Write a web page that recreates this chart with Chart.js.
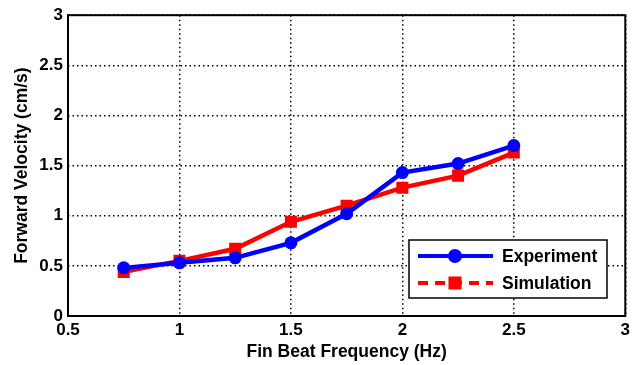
<!DOCTYPE html>
<html>
<head>
<meta charset="utf-8">
<script src="https://cdn.jsdelivr.net/npm/chart.js@4"></script>
<style>
  html, body { margin: 0; padding: 0; background: #fff; }
  #wrap { width: 634px; height: 365px; }
</style>
</head>
<body>
<div id="wrap"><canvas id="chart" width="634" height="365"></canvas></div>
<script>
const frequency = [0.75, 1.0, 1.25, 1.5, 1.75, 2.0, 2.25, 2.5];
const experiment = [0.48, 0.53, 0.58, 0.73, 1.02, 1.43, 1.52, 1.70];
const simulation = [0.44, 0.55, 0.67, 0.94, 1.10, 1.28, 1.40, 1.63];
const xTicks = [0.5, 1, 1.5, 2, 2.5, 3];
const yTicks = [0, 0.5, 1, 1.5, 2, 2.5, 3];

const FAMILY = '"Liberation Sans", Arial, sans-serif';
const TICK_FONT = { family: FAMILY, size: 17, weight: 'bold' };
const TITLE_FONT = { family: FAMILY, size: 17.5, weight: 'bold' };

const toPoints = (xs, ys) => xs.map((x, i) => ({ x: x, y: ys[i] }));

// box frame + legend drawn inside the plot area, MATLAB style
const frameAndLegend = {
  id: 'frameAndLegend',
  afterDraw(chart) {
    const { ctx, chartArea: a } = chart;
    ctx.save();
    ctx.strokeStyle = '#000';
    ctx.lineWidth = 2;
    ctx.strokeRect(a.left, a.top, a.right - a.left, a.bottom - a.top);

    const bx = 409, by = 240, bw = 198, bh = 58;
    ctx.fillStyle = '#fff';
    ctx.fillRect(bx, by, bw, bh);
    ctx.lineWidth = 1.5;
    ctx.strokeRect(bx, by, bw, bh);

    ctx.font = 'bold 17.5px ' + FAMILY;
    ctx.textBaseline = 'middle';
    chart.data.datasets.forEach((ds, i) => {
      const y = by + 16 + i * 27;
      ctx.strokeStyle = ds.borderColor;
      ctx.lineWidth = 4;
      ctx.setLineDash(i === 1 ? [10, 7] : []);
      ctx.beginPath();
      ctx.moveTo(bx + 9, y);
      ctx.lineTo(bx + 84, y);
      ctx.stroke();
      ctx.setLineDash([]);
      ctx.fillStyle = ds.borderColor;
      if (ds.pointStyle === 'rect') {
        ctx.fillRect(bx + 46 - 6.5, y - 6.5, 13, 13);
      } else {
        ctx.beginPath();
        ctx.arc(bx + 46, y, 7, 0, Math.PI * 2);
        ctx.fill();
      }
      ctx.fillStyle = '#000';
      ctx.fillText(ds.label, bx + 93, y + 1);
    });
    ctx.restore();
  }
};

new Chart(document.getElementById('chart'), {
  type: 'line',
  data: {
    datasets: [
      {
        label: 'Experiment',
        data: toPoints(frequency, experiment),
        borderColor: '#0000ff',
        backgroundColor: '#0000ff',
        borderWidth: 4.5,
        pointStyle: 'circle',
        pointRadius: 6.5,
        pointBorderWidth: 0,
        tension: 0
      },
      {
        label: 'Simulation',
        data: toPoints(frequency, simulation),
        borderColor: '#ff0000',
        backgroundColor: '#ff0000',
        borderWidth: 4.5,
        pointStyle: 'rect',
        pointRadius: 8.5,
        pointBorderWidth: 0,
        tension: 0
      }
    ]
  },
  options: {
    responsive: false,
    animation: false,
    layout: { padding: { top: 13, right: -3, left: 12, bottom: 0 } },
    plugins: {
      legend: { display: false },
      tooltip: { enabled: false }
    },
    scales: {
      x: {
        type: 'linear',
        min: 0.5,
        max: 3,
        afterBuildTicks: (s) => { s.ticks = xTicks.map(v => ({ value: v })); },
        afterFit: (s) => { s.height = 49; },
        border: { display: false, dash: [1.5, 3] },
        grid: {
          color: '#000',
          lineWidth: 1.5,
          drawTicks: false
        },
        ticks: {
          color: '#000',
          font: TICK_FONT,
          padding: 4,
          maxRotation: 0,
          callback: (v) => String(v)
        },
        title: {
          display: true,
          text: 'Fin Beat Frequency (Hz)',
          color: '#000',
          font: TITLE_FONT,
          padding: { top: 3, bottom: 2 }
        }
      },
      y: {
        type: 'linear',
        min: 0,
        max: 3,
        afterBuildTicks: (s) => { s.ticks = yTicks.map(v => ({ value: v })); },
        afterFit: (s) => { s.width = 56; },
        border: { display: false, dash: [1.5, 3] },
        grid: {
          color: '#000',
          lineWidth: 1.5,
          drawTicks: false
        },
        ticks: {
          color: '#000',
          font: TICK_FONT,
          padding: 5,
          callback: (v) => String(v)
        },
        title: {
          display: true,
          text: 'Forward Velocity (cm/s)',
          color: '#000',
          font: TITLE_FONT,
          padding: { top: 0, bottom: 4 }
        }
      }
    }
  },
  plugins: [frameAndLegend]
});
</script>
</body>
</html>
